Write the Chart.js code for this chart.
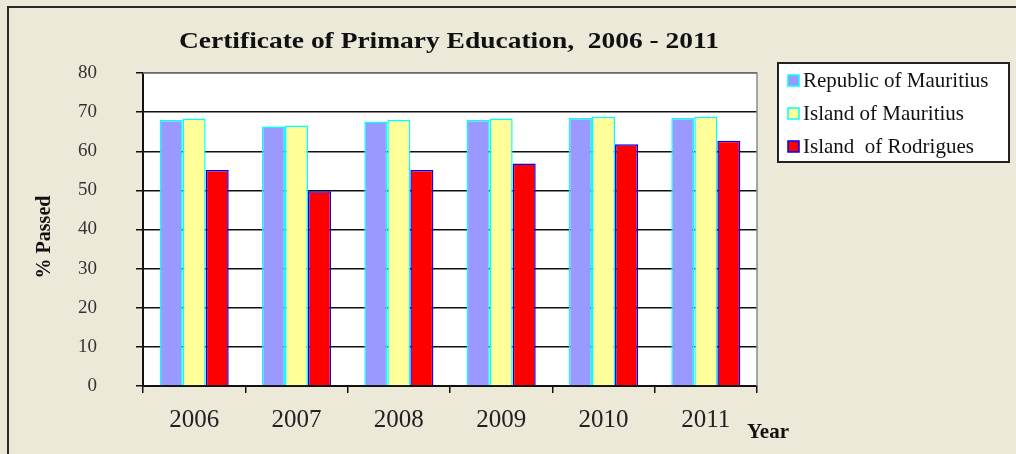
<!DOCTYPE html>
<html>
<head>
<meta charset="utf-8">
<script src="https://cdn.jsdelivr.net/npm/chart.js@4/dist/chart.umd.min.js"></script>
<style>
  html, body { margin: 0; padding: 0; background: #ECE9D8; }
  #wrap { width: 1016px; height: 454px; position: relative; }
</style>
</head>
<body>
<div id="wrap"><canvas id="c" width="1016" height="454"></canvas></div>
<script>
const years = ['2006', '2007', '2008', '2009', '2010', '2011'];
const republicOfMauritius = [68.0, 66.3, 67.6, 68.0, 68.5, 68.5];
const islandOfMauritius = [68.4, 66.6, 68.0, 68.4, 68.8, 68.8];
const islandOfRodrigues = [55.2, 49.8, 55.2, 56.9, 61.8, 62.7];
const seriesLabels = ['Republic of Mauritius', 'Island of Mauritius', 'Island  of Rodrigues'];
const yTicks = [0, 10, 20, 30, 40, 50, 60, 70, 80];

const SERIF = '"Liberation Serif", "Times New Roman", serif';

function stretchedText(ctx, text, cx, cy, targetWidth) {
  const w = ctx.measureText(text).width;
  const s = targetWidth / w;
  ctx.save();
  ctx.translate(cx, cy);
  ctx.scale(s, 1);
  ctx.textAlign = 'center';
  ctx.textBaseline = 'middle';
  ctx.fillText(text, 0, 0);
  ctx.restore();
}

const framePlugin = {
  id: 'frame',
  beforeDraw(chart) {
    const ctx = chart.ctx;
    const a = chart.chartArea;
    ctx.save();
    ctx.fillStyle = '#ECE9D8';
    ctx.fillRect(0, 0, chart.width, chart.height);
    ctx.fillStyle = '#FFFFFF';
    ctx.fillRect(a.left, a.top, a.right - a.left, a.bottom - a.top);
    ctx.strokeStyle = '#2a2a2a';
    ctx.lineWidth = 2;
    ctx.beginPath();
    ctx.moveTo(8, chart.height);
    ctx.lineTo(8, 7);
    ctx.lineTo(chart.width, 7);
    ctx.stroke();
    ctx.restore();
  },
  afterDraw(chart) {
    const ctx = chart.ctx;
    const a = chart.chartArea;
    ctx.save();
    ctx.strokeStyle = '#8a8a8a';
    ctx.lineWidth = 1.5;
    ctx.beginPath();
    ctx.moveTo(a.left, a.top);
    ctx.lineTo(a.right, a.top);
    ctx.lineTo(a.right, a.bottom);
    ctx.stroke();
    // title
    ctx.fillStyle = '#111';
    ctx.font = 'bold 24px ' + SERIF;
    stretchedText(ctx, 'Certificate of Primary Education,  2006 - 2011', 449, 42, 540);
    // y axis title
    ctx.save();
    ctx.translate(45, 237);
    ctx.rotate(-Math.PI / 2);
    ctx.font = 'bold 20px ' + SERIF;
    ctx.textAlign = 'center';
    ctx.textBaseline = 'middle';
    ctx.fillText('% Passed', 0, 0);
    ctx.restore();
    // x axis title
    ctx.font = 'bold 21px ' + SERIF;
    ctx.textAlign = 'left';
    ctx.textBaseline = 'middle';
    ctx.fillText('Year', 747, 433);
    // legend
    const lx = 778, ly = 63, lw = 231, lh = 99;
    ctx.fillStyle = '#FFFFFF';
    ctx.fillRect(lx, ly, lw, lh);
    ctx.strokeStyle = '#222';
    ctx.lineWidth = 2;
    ctx.strokeRect(lx, ly, lw, lh);
    const rows = [80, 113, 146];
    chart.data.datasets.forEach((ds, i) => {
      const y = rows[i];
      ctx.fillStyle = ds.backgroundColor;
      ctx.fillRect(788, y - 5, 11, 11);
      ctx.strokeStyle = ds.borderColor;
      ctx.lineWidth = 1.5;
      ctx.strokeRect(788, y - 5, 11, 11);
      ctx.fillStyle = '#111';
      ctx.font = '21px ' + SERIF;
      ctx.textAlign = 'left';
      ctx.textBaseline = 'middle';
      ctx.fillText(ds.label, 803, y + 1);
    });
    ctx.restore();
  }
};

new Chart(document.getElementById('c'), {
  type: 'bar',
  data: {
    labels: years,
    datasets: [
      { label: seriesLabels[0], data: republicOfMauritius, backgroundColor: '#9999FF', borderColor: '#00FFFF', borderWidth: 1.5 },
      { label: seriesLabels[1], data: islandOfMauritius, backgroundColor: '#FFFF99', borderColor: '#00FFFF', borderWidth: 1.5 },
      { label: seriesLabels[2], data: islandOfRodrigues, backgroundColor: '#FF0000', borderColor: '#0000FF', borderWidth: 1.5 }
    ]
  },
  options: {
    responsive: false,
    animation: false,
    events: [],
    layout: { padding: { left: 0, top: 73, right: 259, bottom: 0 } },
    datasets: { bar: { categoryPercentage: 0.675, barPercentage: 1.0 } },
    plugins: {
      legend: { display: false },
      title: { display: false },
      tooltip: { enabled: false }
    },
    scales: {
      x: {
        grid: { display: true, drawOnChartArea: false, drawTicks: true, tickLength: 7, color: '#111', lineWidth: 1.5, offset: true },
        border: { display: true, color: '#111', width: 2 },
        ticks: { color: '#222', font: { family: SERIF, size: 25 }, padding: 12 },
        afterFit(scale) { scale.height = 68; }
      },
      y: {
        min: 0, max: 80,
        afterBuildTicks(scale) { scale.ticks = yTicks.map(v => ({ value: v })); },
        grid: { color: '#111', lineWidth: 1.5, drawTicks: true, tickLength: 7 },
        border: { display: true, color: '#111', width: 2 },
        ticks: { color: '#333', font: { family: SERIF, size: 19 }, padding: 39 },
        afterFit(scale) { scale.width = 143; }
      }
    }
  },
  plugins: [framePlugin]
});
</script>
</body>
</html>
